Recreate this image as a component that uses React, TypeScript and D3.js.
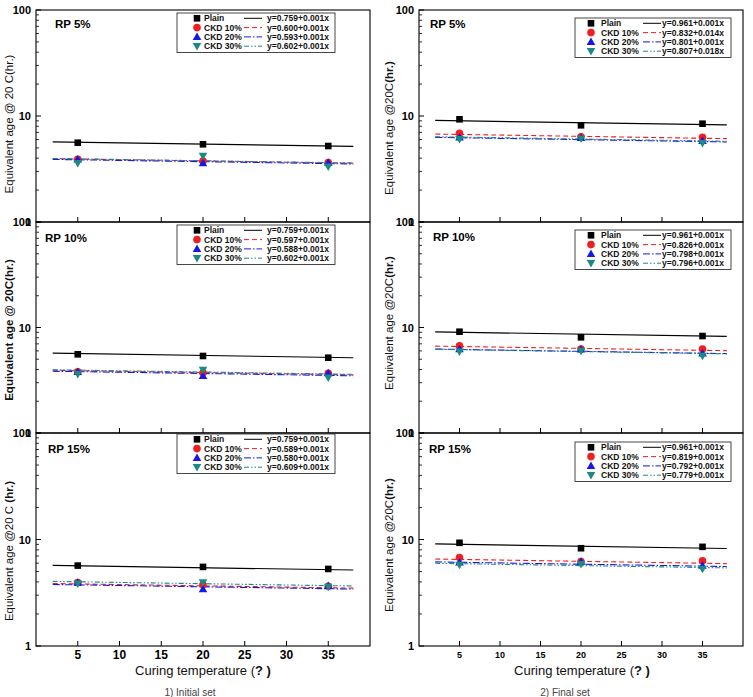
import React from "react";
import * as d3 from "d3";

const temps = [5, 20, 35];
const xTicks = [5, 10, 15, 20, 25, 30, 35];
const seriesNames = ["Plain", "CKD 10%", "CKD 20%", "CKD 30%"];
const rpLabels = ["RP 5%", "RP 10%", "RP 15%"];

// Initial set (left column), rows = RP 5%, 10%, 15%
const initPlain = [[5.60, 5.41, 5.21], [5.57, 5.37, 5.17], [5.69, 5.53, 5.29]];
const initCkd10 = [[3.91, 3.76, 3.63], [3.81, 3.73, 3.68], [3.95, 3.76, 3.63]];
const initCkd20 = [[3.91, 3.60, 3.63], [3.81, 3.49, 3.70], [3.95, 3.43, 3.68]];
const initCkd30 = [[3.58, 4.19, 3.32], [3.60, 3.96, 3.34], [3.85, 3.95, 3.58]];

// Final set (right column)
const finalPlain = [[9.31, 8.17, 8.46], [9.12, 8.07, 8.30], [9.31, 8.28, 8.53]];
const finalCkd10 = [[6.87, 6.38, 6.30], [6.72, 6.25, 6.25], [6.76, 6.20, 6.30]];
const finalCkd20 = [[6.30, 6.24, 5.85], [6.25, 6.20, 5.69], [6.10, 6.20, 5.69]];
const finalCkd30 = [[6.03, 6.10, 5.53], [5.90, 5.98, 5.37], [5.77, 5.85, 5.29]];

// Fit equation intercepts (log10 scale) and slope labels from the legends
const initIntercepts = [[0.759, 0.600, 0.593, 0.602], [0.759, 0.597, 0.588, 0.602], [0.759, 0.589, 0.580, 0.609]];
const initSlopeLabels = [["0.001", "0.001", "0.001", "0.001"], ["0.001", "0.001", "0.001", "0.001"], ["0.001", "0.001", "0.001", "0.001"]];
const finalIntercepts = [[0.961, 0.832, 0.801, 0.807], [0.961, 0.826, 0.798, 0.796], [0.961, 0.819, 0.792, 0.779]];
const finalSlopeLabels = [["0.001", "0.014", "0.001", "0.018"], ["0.001", "0.001", "0.001", "0.001"], ["0.001", "0.001", "0.001", "0.001"]];
const fitDecline = 0.0012; // drawn decline of log10(y) per degree
const fitRange = [2, 38];

const FONT = "'Liberation Sans', Arial, sans-serif";
const colors = ["#000000", "#f01e1e", "#1818e6", "#1a8a84"];
const dashes = [null, "5,3", "7,2,1.5,2", "5,2,1.5,2,1.5,2"];

const rows = [
  { top: 10, bottom: 222 },
  { top: 222, bottom: 433 },
  { top: 433, bottom: 646 },
];

const cols = [
  {
    x0: 36, x1: 370,
    data: [initPlain, initCkd10, initCkd20, initCkd30],
    intercepts: initIntercepts, slopes: initSlopeLabels,
    legend: { bx0: 177, bx1: 335, mx: 197, lx: 204, l0: 244, l1: 262, ex: 329, tops: [3, 3, 1] },
    rp: { xs: [55, 45, 48], dy: [14, 16, 16] },
    titleX: 9, titleY: [124, 330, 551],
    tickFont: 11, yLabelX: 31,
    xTitle: 203, caption: "1)  Initial  set", captionX: 190,
  },
  {
    x0: 419, x1: 743,
    data: [finalPlain, finalCkd10, finalCkd20, finalCkd30],
    intercepts: finalIntercepts, slopes: finalSlopeLabels,
    legend: { bx0: 575, bx1: 731, mx: 591, lx: 601, l0: 643, l1: 661, ex: 724, tops: [8, 8, 9] },
    rp: { xs: [430, 433, 429], dy: [14, 15, 16] },
    titleX: 389, titleY: [128, 323, 545],
    tickFont: 9, yLabelX: 414,
    xTitle: 582, caption: "2)  Final  set", captionX: 565,
  },
];

function Marker({ type, x, y, color }: { type: number; x: number; y: number; color: string }) {
  if (type === 0) return <rect x={x - 3.3} y={y - 3.3} width={6.6} height={6.6} fill={color} />;
  if (type === 1) return <circle cx={x} cy={y} r={3.8} fill={color} />;
  if (type === 2) return <path d={`M${x},${y - 4.3}L${x + 4.3},${y + 3.2}L${x - 4.3},${y + 3.2}Z`} fill={color} />;
  return <path d={`M${x},${y + 4.3}L${x + 4.3},${y - 3.2}L${x - 4.3},${y - 3.2}Z`} fill={color} />;
}

function YTitle({ ci, ri, x, y }: { ci: number; ri: number; x: number; y: number }) {
  const t = `rotate(-90 ${x} ${y})`;
  const common = { x, y, transform: t, textAnchor: "middle" as const, dominantBaseline: "central" as const, fontSize: 11.5, fontFamily: FONT, fill: "#111" };
  if (ci === 0 && ri === 0) return <text {...common}>Equivalent age @ 20 C(hr.)</text>;
  if (ci === 0 && ri === 1) return <text {...common} fontWeight="bold">Equivalent age @ 20C(hr.)</text>;
  if (ci === 0 && ri === 2) return <text {...common}>Equivalent age @20 C <tspan fontWeight="bold">(hr.)</tspan></text>;
  return <text {...common}>Equivalent age @20C<tspan fontWeight="bold">(hr.)</tspan></text>;
}

export default function App() {
  const W = 753, H = 697;
  const minorVals: number[] = [];
  for (const d of [1, 10]) for (let k = 2; k <= 9; k++) minorVals.push(d * k);

  return (
    <svg width={W} height={H} style={{ position: "absolute", left: 0, top: 0, background: "#fff" }}>
      <rect x={0} y={0} width={W} height={H} fill="#fff" />
      {cols.map((c, ci) => {
        const x = d3.scaleLinear().domain([0, 40]).range([c.x0, c.x1]);
        return (
          <g key={ci}>
            {rows.map((r, ri) => {
              const y = d3.scaleLog().domain([1, 100]).range([r.bottom, r.top]);
              const lg = c.legend;
              const boxTop = r.top + lg.tops[ri];
              const line = d3.line<number>().x((t) => x(t)).y((t) => y(Math.pow(10, c.intercepts[ri][0] - fitDecline * t)));
              return (
                <g key={ri}>
                  <rect x={c.x0} y={r.top} width={c.x1 - c.x0} height={r.bottom - r.top} fill="none" stroke="#000" strokeWidth={1.1} />
                  {/* y ticks */}
                  {[1, 10, 100].map((v) => (
                    <line key={"M" + v} x1={c.x0} x2={c.x0 + 5} y1={y(v)} y2={y(v)} stroke="#000" strokeWidth={1} />
                  ))}
                  {minorVals.map((v) => (
                    <line key={"m" + v} x1={c.x0} x2={c.x0 + 3} y1={y(v)} y2={y(v)} stroke="#000" strokeWidth={0.8} />
                  ))}
                  {[1, 10, 100].map((v) => (
                    <text key={"l" + v} x={c.yLabelX} y={y(v)} textAnchor="end" dominantBaseline="central" fontSize={11} fontWeight="bold" fontFamily={FONT}>
                      {v}
                    </text>
                  ))}
                  {/* x ticks */}
                  {xTicks.map((t) => (
                    <line key={"x" + t} x1={x(t)} x2={x(t)} y1={r.bottom} y2={r.bottom - 5} stroke="#000" strokeWidth={1} />
                  ))}
                  {/* fit lines */}
                  {c.intercepts[ri].map((a, si) => {
                    const ln = d3.line<number>().x((t) => x(t)).y((t) => y(Math.pow(10, a - fitDecline * t)));
                    return (
                      <path key={"f" + si} d={ln(fitRange) || ""} fill="none" stroke={colors[si]} strokeWidth={si === 0 ? 1.2 : 1.1} strokeDasharray={dashes[si] || undefined} />
                    );
                  })}
                  {/* markers */}
                  {c.data.map((series, si) =>
                    series[ri].map((v, k) => <Marker key={si + "-" + k} type={si} x={x(temps[k])} y={y(v)} color={colors[si]} />)
                  )}
                  {/* RP label */}
                  <text x={c.rp.xs[ri]} y={r.top + c.rp.dy[ri]} dominantBaseline="central" fontSize={11.5} fontWeight="bold" fontFamily={FONT}>
                    {rpLabels[ri]}
                  </text>
                  {/* legend */}
                  <rect x={lg.bx0} y={boxTop} width={lg.bx1 - lg.bx0} height={39.5} fill="#fff" stroke="#333" strokeWidth={0.9} />
                  {seriesNames.map((name, si) => {
                    const ry = boxTop + 5.3 + si * 9.3;
                    return (
                      <g key={"lg" + si}>
                        <Marker type={si} x={lg.mx} y={ry} color={colors[si]} />
                        <text x={lg.lx} y={ry} dominantBaseline="central" fontSize={8.5} fontWeight="bold" fontFamily={FONT} fill="#111">
                          {name}
                        </text>
                        <line x1={lg.l0} x2={lg.l1} y1={ry} y2={ry} stroke={colors[si]} strokeWidth={1} strokeDasharray={dashes[si] || undefined} />
                        <text x={lg.ex} y={ry} textAnchor="end" dominantBaseline="central" fontSize={8.5} fontWeight="bold" fontFamily={FONT} fill="#111">
                          {`y=${c.intercepts[ri][si].toFixed(3)}+${c.slopes[ri][si]}x`}
                        </text>
                      </g>
                    );
                  })}
                  <YTitle ci={ci} ri={ri} x={c.titleX} y={c.titleY[ri]} />
                </g>
              );
            })}
            {/* x tick labels on bottom panel */}
            {xTicks.map((t) => (
              <text key={"xl" + t} x={x(t)} y={655} textAnchor="middle" dominantBaseline="central" fontSize={c.tickFont + (ci === 0 ? 1 : 0)} fontWeight="bold" fontFamily={FONT}>
                {t}
              </text>
            ))}
            <text x={c.xTitle} y={670} textAnchor="middle" dominantBaseline="central" fontSize={13} fontFamily={FONT} fill="#111">
              Curing temperature (<tspan fontWeight="bold">? )</tspan>
            </text>
            <text x={c.captionX} y={692} textAnchor="middle" dominantBaseline="central" fontSize={10} fontFamily={FONT} fill="#444">
              {c.caption}
            </text>
          </g>
        );
      })}
    </svg>
  );
}
